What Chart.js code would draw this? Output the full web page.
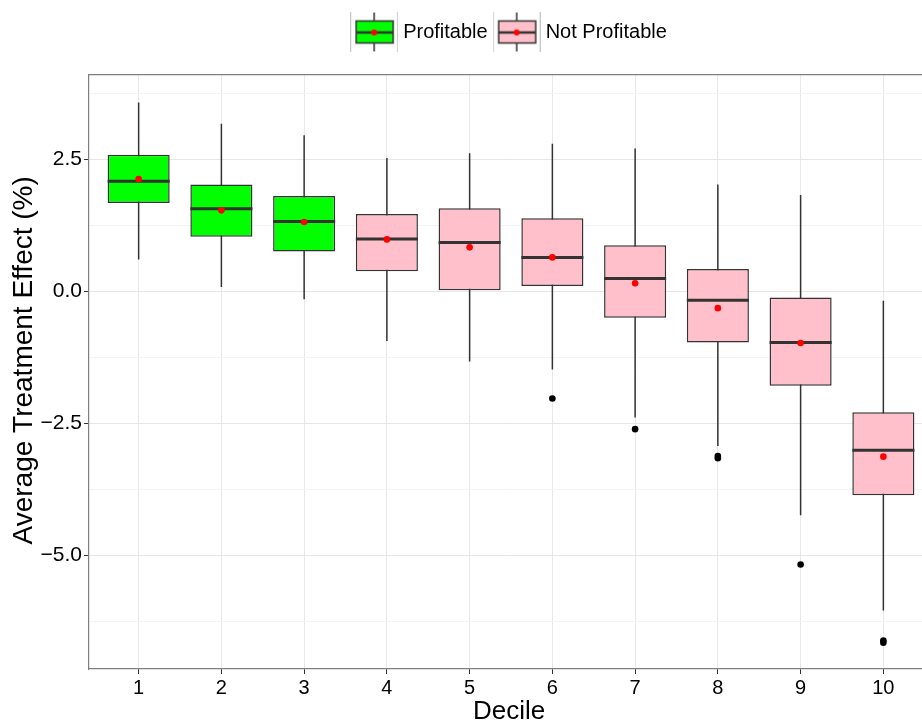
<!DOCTYPE html>
<html lang="en">
<head>
  <meta charset="UTF-8">
  <title>Average Treatment Effect by Decile</title>
  <script src="https://cdn.jsdelivr.net/npm/chart.js"></script>
  <style>
    body { margin: 0; padding: 0; background: #fff; }
    #wrap { width: 922px; height: 722px; }
  </style>
</head>
<body>
  <div id="wrap"><canvas id="boxChart" width="922" height="722"></canvas></div>
  <script>
    // Box plot summary per decile
    const deciles = [1, 2, 3, 4, 5, 6, 7, 8, 9, 10];
    const profitableDeciles = [1, 2, 3];
    const whiskerLow  = [0.60, 0.08, -0.15, -0.94, -1.33, -1.48, -2.39, -2.93, -4.24, -6.04];
    const q1          = [1.67, 1.03, 0.75, 0.38, 0.02, 0.10, -0.50, -0.97, -1.79, -3.86];
    const median      = [2.08, 1.56, 1.32, 0.99, 0.92, 0.64, 0.24, -0.17, -0.97, -3.01];
    const q3          = [2.58, 2.02, 1.80, 1.46, 1.57, 1.38, 0.87, 0.42, -0.12, -2.29];
    const whiskerHigh = [3.57, 3.17, 2.95, 2.52, 2.61, 2.79, 2.70, 2.02, 1.82, -0.18];
    const mean        = [2.12, 1.53, 1.31, 0.98, 0.83, 0.64, 0.15, -0.32, -0.98, -3.13];
    const outlierDecile = [6, 7, 8, 8, 9, 10, 10];
    const outlierValue  = [-2.03, -2.61, -3.12, -3.16, -5.17, -6.61, -6.65];
    const yMajorTicks = [-5, -2.5, 0, 2.5];
    const yMinorTicks = [-6.25, -3.75, -1.25, 1.25, 3.75];
    const legendLabels = ['Profitable', 'Not Profitable'];

    const GREEN = '#00ff00';
    const PINK = '#ffc0cb';
    const EDGE = '#333333';
    const HALF = 0.375;     // half box width in decile units
    const PANEL_END = 10.6; // the panel runs on past the right edge of the image

    Chart.defaults.font.family = '"Liberation Sans", Arial, sans-serif';

    // Build datasets from the arrays
    const boxData = (want) => deciles
      .map((d, i) => ({x: d, y: [q1[i], q3[i]]}))
      .filter(p => profitableDeciles.includes(p.x) === want);

    const whiskerData = [];
    const medianData = [];
    deciles.forEach((d, i) => {
      whiskerData.push({x: d, y: whiskerLow[i]}, {x: d, y: whiskerHigh[i]}, {x: d, y: null});
      medianData.push({x: d - HALF, y: median[i]}, {x: d + HALF, y: median[i]}, {x: d + HALF, y: null});
    });
    const meanData = deciles.map((d, i) => ({x: d, y: mean[i]}));
    const outlierData = outlierDecile.map((d, i) => ({x: d, y: outlierValue[i]}));

    // Legend key glyph: small box plot in a grey key frame
    function keyGlyph(fill) {
      const c = document.createElement('canvas');
      c.width = 48; c.height = 49;
      const g = c.getContext('2d');
      g.fillStyle = '#ffffff'; g.fillRect(0, 0, 48, 49);
      g.strokeStyle = '#c8c8c8'; g.lineWidth = 1.2; g.strokeRect(0.5, 0.5, 47, 48);
      g.strokeStyle = EDGE; g.lineWidth = 1.5;
      g.beginPath(); g.moveTo(24, 5); g.lineTo(24, 44); g.stroke();
      g.fillStyle = fill; g.fillRect(6, 13.5, 37, 22); g.strokeRect(6, 13.5, 37, 22);
      g.lineWidth = 2.5;
      g.beginPath(); g.moveTo(6, 25); g.lineTo(43, 25); g.stroke();
      g.fillStyle = '#ff0000';
      g.beginPath(); g.arc(24, 25, 3, 0, Math.PI * 2); g.fill();
      return c;
    }
    const glyphs = [keyGlyph(GREEN), keyGlyph(PINK)];

    const fmt = v => v.toFixed(1).replace('-', '\u2212');

    // centre the legend over the whole panel, including the part cut off on the right
    const legendOverPanel = {
      id: 'legendOverPanel',
      afterLayout(chart) {
        const lg = chart.legend;
        if (!lg) return;
        lg.left = chart.chartArea.left;
        lg.right = chart.scales.x.getPixelForValue(PANEL_END);
      }
    };

    new Chart(document.getElementById('boxChart'), {
      type: 'bar',
      data: {
        datasets: [
          {
            label: legendLabels[0], data: boxData(true), order: 3,
            backgroundColor: GREEN, borderColor: EDGE, borderWidth: 1.5, borderSkipped: false,
            grouped: false, barPercentage: 0.75, categoryPercentage: 1
          },
          {
            label: legendLabels[1], data: boxData(false), order: 3,
            backgroundColor: PINK, borderColor: EDGE, borderWidth: 1.5, borderSkipped: false,
            grouped: false, barPercentage: 0.75, categoryPercentage: 1
          },
          {
            type: 'line', label: 'whiskers', data: whiskerData, order: 4,
            borderColor: EDGE, borderWidth: 1.5, pointRadius: 0, spanGaps: false
          },
          {
            type: 'line', label: 'median', data: medianData, order: 2,
            borderColor: EDGE, borderWidth: 3, pointRadius: 0, spanGaps: false
          },
          {
            type: 'line', label: 'outliers', data: outlierData, order: 1, showLine: false,
            pointRadius: 3.3, pointBackgroundColor: '#000', pointBorderWidth: 0
          },
          {
            type: 'line', label: 'mean', data: meanData, order: 0, showLine: false,
            pointRadius: 3.3, pointBackgroundColor: '#ff0000', pointBorderWidth: 0
          }
        ]
      },
      plugins: [legendOverPanel],
      options: {
        responsive: false,
        animation: false,
        events: [],
        layout: { autoPadding: false, padding: { top: 12, right: 0, left: 0, bottom: 0 } },
        plugins: {
          tooltip: { enabled: false },
          legend: {
            position: 'top',
            fullSize: false,
            labels: {
              usePointStyle: true,
              pointStyleWidth: 38,
              padding: 10,
              color: '#000',
              font: { size: 20 },
              generateLabels: () => legendLabels.map((t, i) => ({
                text: t, pointStyle: glyphs[i], datasetIndex: i,
                hidden: false, lineWidth: 0, fontColor: '#000'
              }))
            }
          }
        },
        scales: {
          x: {
            type: 'linear',
            offset: false,
            min: 0.4,
            max: 10.467,
            afterBuildTicks: s => { s.ticks = deciles.map(v => ({value: v})); },
            afterFit: s => { s.height = 53; },
            grid: { offset: false, color: '#e8e8e8', tickColor: EDGE, tickLength: 5 },
            border: { color: '#7f7f7f', width: 1.2 },
            ticks: { color: '#000', font: { size: 20 }, padding: 2, maxRotation: 0 },
            title: {
              display: true, text: ' Decile', color: '#000',
              font: { size: 26, lineHeight: 1 }, padding: { top: 0, bottom: -3 }
            }
          },
          xTop: {
            type: 'linear',
            position: 'top',
            offset: false,
            afterFit: s => { s.height = 23; },
            grid: { display: false },
            ticks: { display: false, padding: 0 },
            border: { color: '#7f7f7f', width: 1.2 }
          },
          y: {
            min: -7.148,
            max: 4.091,
            afterBuildTicks: s => {
              s.ticks = yMinorTicks.concat(yMajorTicks).sort((a, b) => a - b).map(v => ({value: v}));
            },
            afterFit: s => { s.width = 89; },
            grid: {
              color: c => yMajorTicks.includes(c.tick.value) ? '#e6e6e6' : '#f4f4f4',
              tickColor: c => yMajorTicks.includes(c.tick.value) ? EDGE : 'rgba(0,0,0,0)',
              tickLength: 5
            },
            border: { color: '#7f7f7f', width: 1.2 },
            ticks: {
              color: '#000', font: { size: 21 }, padding: 2,
              callback: v => yMajorTicks.includes(v) ? fmt(v) : ''
            },
            title: {
              display: true, text: '   Average Treatment Effect (%)', color: '#000',
              font: { size: 28, lineHeight: 1.1 }, padding: { top: 9, bottom: 0 }
            }
          }
        }
      }
    });
  </script>
</body>
</html>
